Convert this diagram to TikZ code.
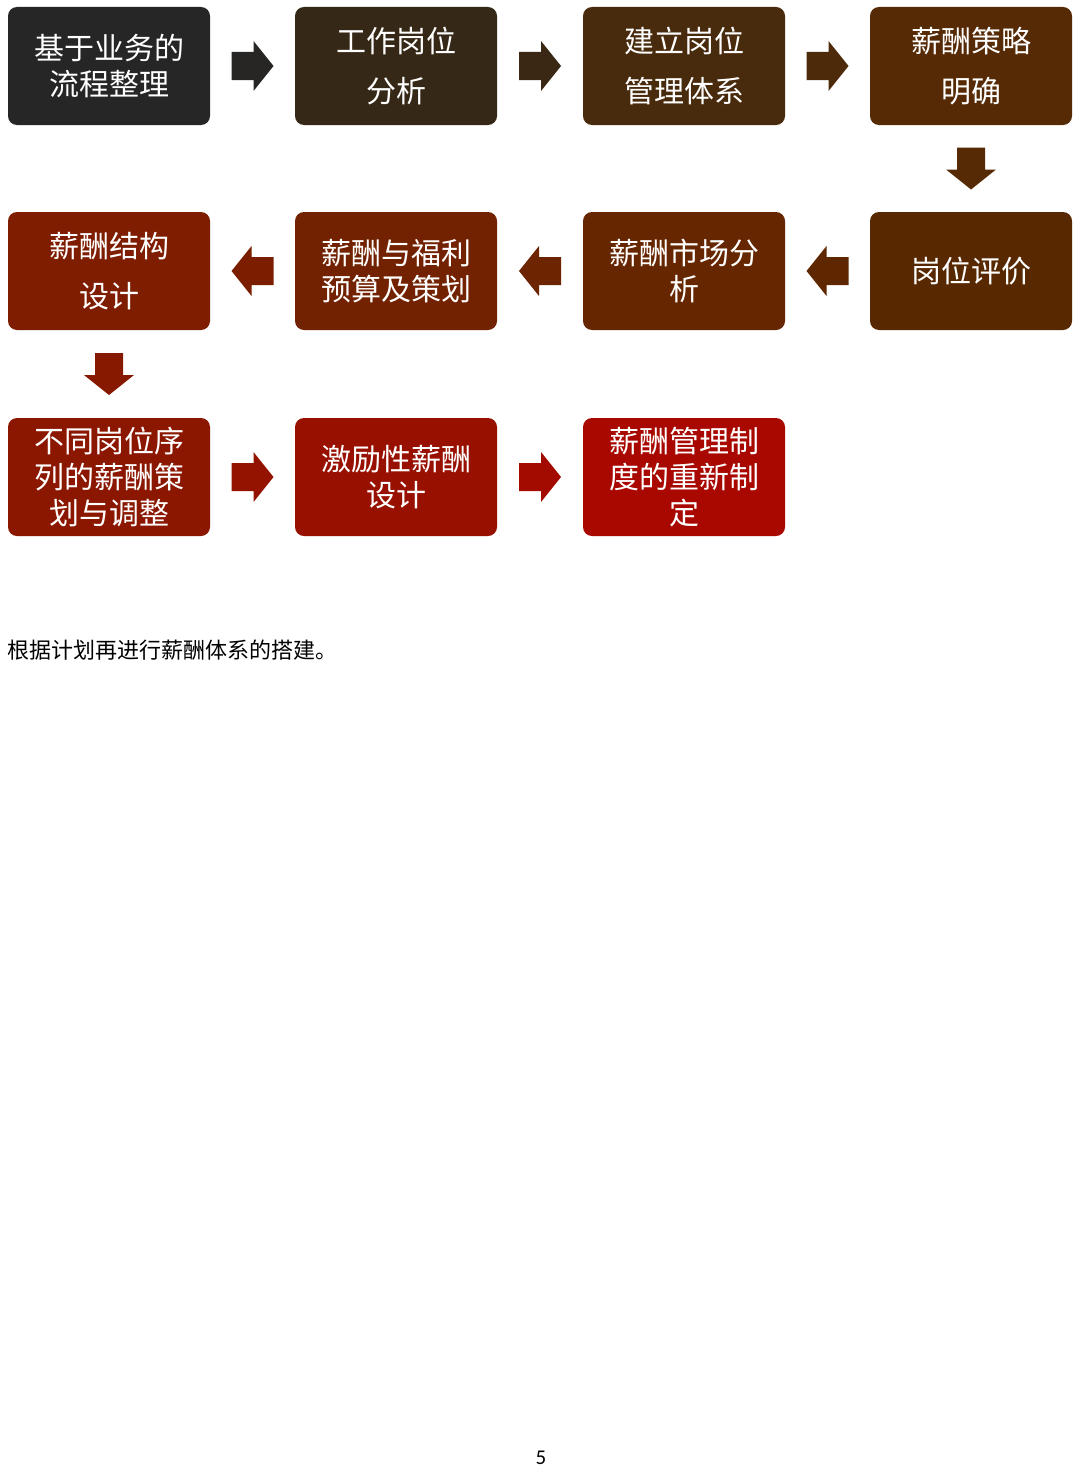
\documentclass[tikz,border=0pt]{standalone}
\usepackage{fontspec}
\setmainfont{Carlito}
\newfontfamily\cjk{Noto Sans CJK SC}
\usetikzlibrary{calc}

% Farben der Stufen
\definecolor{boxA}{HTML}{262626}
\definecolor{boxB}{HTML}{362816}
\definecolor{boxC}{HTML}{482A0C}
\definecolor{boxD}{HTML}{552A05}
\definecolor{boxE}{HTML}{582900}
\definecolor{boxF}{HTML}{662600}
\definecolor{boxG}{HTML}{722200}
\definecolor{boxH}{HTML}{7F1D00}
\definecolor{boxI}{HTML}{8B1700}
\definecolor{boxJ}{HTML}{981100}
\definecolor{boxK}{HTML}{A80800}

\tikzset{
  box/.style={rectangle, rounded corners=9pt, minimum width=202pt, minimum height=118pt,
    inner sep=0pt, text=white, align=center, font=\cjk\fontsize{30}{36}\selectfont},
  wide/.style={font=\cjk\fontsize{30}{50}\selectfont},
  blk/.pic={\fill (-21,-14) -- (1,-14) -- (1,-25) -- (21,0) -- (1,25) -- (1,14) -- (-21,14) -- cycle;}
}

\begin{document}
\begin{tikzpicture}[x=1pt,y=-1pt]

\useasboundingbox[fill=white] (0,0) rectangle (1080,1472);

% Erste Reihe
\node[box, fill=boxA] (b1) at (109,66) {基于业务的\\流程整理};
\node[box, wide, fill=boxB] (b2) at (396,66) {工作岗位\\分析};
\node[box, wide, fill=boxC] (b3) at (684,66) {建立岗位\\管理体系};
\node[box, wide, fill=boxD] (b4) at (971,66) {薪酬策略\\明确};

% Zweite Reihe
\node[box, fill=boxE] (b5) at (971,271) {岗位评价};
\node[box, fill=boxF] (b6) at (684,271) {薪酬市场分\\析};
\node[box, fill=boxG] (b7) at (396,271) {薪酬与福利\\预算及策划};
\node[box, wide, fill=boxH] (b8) at (109,271) {薪酬结构\\设计};

% Dritte Reihe
\node[box, fill=boxI] (b9) at (109,477) {不同岗位序\\列的薪酬策\\划与调整};
\node[box, fill=boxJ] (b10) at (396,477) {激励性薪酬\\设计};
\node[box, fill=boxK] (b11) at (684,477) {薪酬管理制\\度的重新制\\定};

% Pfeile
\pic[fill=boxA!92!boxB] at ($(b1.east)!0.5!(b2.west)$) {blk};
\pic[fill=boxB!80!boxC] at ($(b2.east)!0.5!(b3.west)$) {blk};
\pic[fill=boxC!70!boxD] at ($(b3.east)!0.5!(b4.west)$) {blk};
\pic[fill=boxD, rotate=-90] at ($(b4.south)!0.5!(b5.north)$) {blk};
\pic[fill=boxE!50!boxF, rotate=180] at ($(b5.west)!0.5!(b6.east)$) {blk};
\pic[fill=boxF!40!boxG, rotate=180] at ($(b6.west)!0.5!(b7.east)$) {blk};
\pic[fill=boxG!30!boxH, rotate=180] at ($(b7.west)!0.5!(b8.east)$) {blk};
\pic[fill=boxH!30!boxI, rotate=-90] at ($(b8.south)!0.5!(b9.north)$) {blk};
\pic[fill=boxI!30!boxJ] at ($(b9.east)!0.5!(b10.west)$) {blk};
\pic[fill=boxJ!30!boxK] at ($(b10.east)!0.5!(b11.west)$) {blk};

% Text unten
\node[anchor=west, inner sep=0pt, font=\cjk\fontsize{22}{26}\selectfont] (note) at (7,650) {根据计划再进行薪酬体系的搭建。};
\node[font=\fontsize{21}{24}\selectfont] (pnum) at (541,1458) {5};

\end{tikzpicture}
\end{document}
